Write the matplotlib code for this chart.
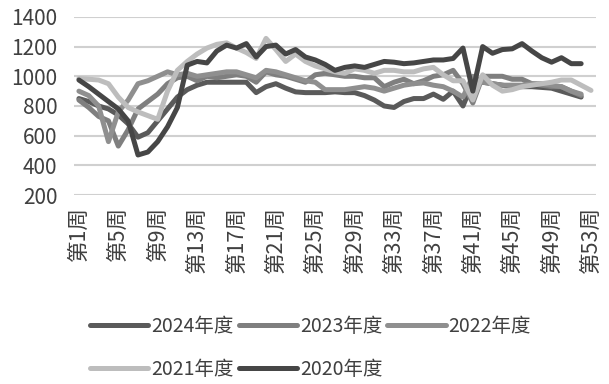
import matplotlib
matplotlib.use("Agg")
import matplotlib.pyplot as plt
import numpy as np

plt.rcParams['font.family'] = ['Noto Sans CJK SC', 'DejaVu Sans']

weeks = list(range(1, 54))
tick_weeks = list(range(1, 54, 4))
tick_labels = ["第%d周" % w for w in tick_weeks]

s2024 = [850, 830, 800, 780, 740, 680, 590, 620, 700, 780, 860, 910, 940, 960, 960, 960,
         960, 960, 890, 930, 950, 920, 895, 890, 890, 890, 895, 890, 890, 870, 840, 800,
         790, 830, 850, 850, 880, 845, 900, 800, 960, 960, 950, 940, 930, 930, 930, 925,
         920, 900, 880, 860]
s2023 = [840, 790, 730, 700, 530, 640, 780, 830, 880, 950, 990, 1000, 970, 1000, 990, 1000,
         1010, 1000, 960, 1030, 1010, 1000, 980, 960, 1010, 1020, 1010, 1000, 1000, 990, 990, 930,
         960, 980, 950, 970, 1000, 1010, 1040, 950, 820, 1000, 1000, 1000, 980, 980, 950, 940,
         930, 930, 900, 870]
s2022 = [900, 870, 800, 560, 760, 840, 950, 970, 1000, 1030, 1010, 1020, 1000, 1010, 1020, 1030,
         1030, 1010, 990, 1040, 1030, 1010, 990, 970, 960, 910, 910, 910, 920, 930, 920, 900,
         920, 940, 950, 955, 940, 930, 900, 860, 1000, 960, 950, 940, 940, 940, 950, 950,
         940, 930, 900, 880]
s2021 = [985, 980, 975, 950, 860, 790, 760, 735, 710, 900, 1040, 1100, 1150, 1190, 1215, 1225,
         1190, 1160, 1120, 1255, 1180, 1100, 1150, 1100, 1070, 1050, 1030, 1020, 1050, 1040, 1020, 1040,
         1040, 1030, 1030, 1050, 1060, 1010, 970, 970, 840, 1010, 940, 900, 910, 930, 940, 950,
         960, 975, 975, 940, 905]
s2020 = [975, 930, 880, 830, 780, 700, 470, 490, 560, 660, 790, 1075, 1100, 1090, 1170, 1210,
         1190, 1220, 1130, 1200, 1210, 1150, 1180, 1130, 1110, 1080, 1040, 1060, 1070, 1060, 1080, 1100,
         1095, 1085, 1090, 1100, 1110, 1110, 1120, 1190, 900, 1200, 1155, 1180, 1185, 1220, 1170, 1125,
         1095, 1125, 1085, 1085]

series = [
    ("2024年度", s2024, "#5a5a5a"),
    ("2023年度", s2023, "#7f7f7f"),
    ("2022年度", s2022, "#8f8f8f"),
    ("2021年度", s2021, "#bdbdbd"),
    ("2020年度", s2020, "#464646"),
]

fig = plt.figure(figsize=(6.09, 3.84), dpi=100)
ax = fig.add_axes([0.1215, 0.492, 0.857, 0.464])

lines = []
for name, vals, col in series:
    ln, = ax.plot(weeks[:len(vals)], vals, color=col, lw=3.6, label=name,
                  solid_joinstyle='round', solid_capstyle='round')
    lines.append(ln)

ax.set_xlim(0.5, 53.5)
ax.set_ylim(200, 1400)
ax.set_yticks(range(200, 1401, 200))
ax.set_xticks(tick_weeks)
ax.set_xticklabels(tick_labels, rotation=90, fontsize=15.5, color='#404040')
ax.tick_params(axis='y', labelsize=15, labelcolor='#404040', pad=12)
ax.tick_params(length=0)
ax.tick_params(axis='x', pad=8)
ax.grid(axis='y', color='#d0d0d0', lw=1.5)
ax.set_axisbelow(True)
for sp in ax.spines.values():
    sp.set_visible(False)

# legend fills column by column, so reorder to get rows 2024/2023/2022 then 2021/2020
order = [0, 3, 1, 4, 2]
fig.legend([lines[i] for i in order], [series[i][0] for i in order],
           loc='lower center', bbox_to_anchor=(0.51, -0.035), ncol=3, frameon=False,
           fontsize=14, handlelength=3.0, handletextpad=0.15, columnspacing=0.25,
           labelspacing=1.15, labelcolor='#404040')

fig.savefig("out.png", dpi=100)
